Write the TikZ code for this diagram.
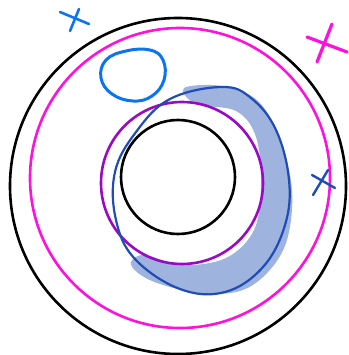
\documentclass[tikz,border=0pt]{standalone}
\usetikzlibrary{calc}
\definecolor{pen}{HTML}{1F4DB5}
\definecolor{moonfill}{HTML}{9EB3DE}
\definecolor{sky}{HTML}{0A74F2}
\definecolor{hotpink}{HTML}{FF10DC}
\definecolor{plum}{HTML}{9A0AC4}
\begin{document}
\begin{tikzpicture}[x=1pt, y=-1pt, line cap=round, line join=round]
    \useasboundingbox (0,0) rectangle (348,355);
    \coordinate (O) at (178,186);
    \coordinate (M) at (180,178);
    \coordinate (C) at (178,177);
    \coordinate (P) at (182,183);

    % shaded crescent
    \fill[moonfill]
        plot[smooth cycle, tension=0.6] coordinates {
        (184,88) (222,86) (258,101) (280,140) (292,190) (287,240)
        (268,272) (240,291) (200,293) (160,284) (138,273) (131,262) (145,255)
        (182,265) (226,258) (254,230) (261,185) (256,137) (236,111) (196,104)};

    \draw[line width=2.6pt] (O) circle (168);
    \draw[hotpink, line width=2.6pt] (M) circle (150);
    \draw[line width=2.6pt] (C) circle (57);
    \draw[plum, line width=2.6pt] (P) circle (81);

    % hand loop
    \draw[pen, line width=2.2pt]
        plot[smooth cycle, tension=0.65] coordinates {
        (222,87) (170,99) (136,132) (115,172) (116,220) (135,259)
        (180,289) (225,292) (263,267) (285,225) (289,180) (276,130) (251,98)};

    \draw[sky, line width=3pt]
        plot[smooth cycle, tension=0.7] coordinates {
        (126,51) (150,50) (163,60) (164,80) (152,96) (133,101)
        (112,94) (101,78) (106,60)};

    % marks
    \draw[sky, line width=2.6pt] (60,12) -- (89,24);
    \draw[sky, line width=2.6pt] (79,9) -- (70,31);
    \draw[hotpink, line width=3.2pt] (307,37) -- (347,52);
    \draw[hotpink, line width=3.2pt] (332,24) -- (317,62);
    \draw[pen, line width=2.4pt] (312,175) -- (335,188);
    \draw[pen, line width=2.4pt] (328,170) -- (313,195);
\end{tikzpicture}
\end{document}
